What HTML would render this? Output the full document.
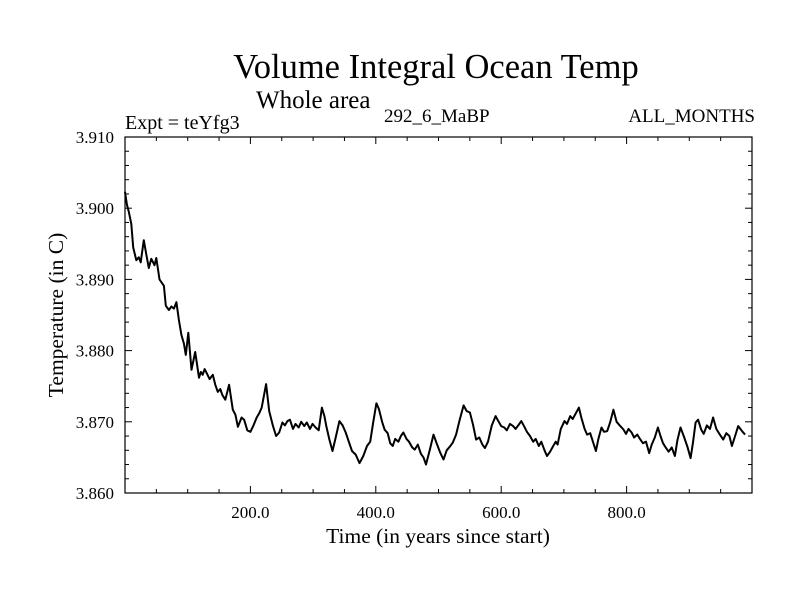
<!DOCTYPE html>
<html><head><meta charset="utf-8"><style>
body{margin:0;background:#fff}
svg{display:block;font-family:"Liberation Serif",serif}
</style></head><body>
<svg id="chart" width="800" height="600" xmlns="http://www.w3.org/2000/svg">
<rect width="800" height="600" fill="#fff"/>
<text x="436" y="78" font-size="34.5" text-anchor="middle">Volume Integral Ocean Temp</text>
<text x="256" y="108" font-size="25">Whole area</text>
<text x="125" y="129" font-size="20">Expt = teYfg3</text>
<text x="384" y="122" font-size="19">292_6_MaBP</text>
<text x="755" y="122" font-size="19" text-anchor="end">ALL_MONTHS</text>
<text x="438" y="543" font-size="21.5" text-anchor="middle">Time (in years since start)</text>
<text transform="translate(63,315) rotate(-90)" font-size="21.5" text-anchor="middle">Temperature (in C)</text>
<g id="axes"></g>
<path id="series" fill="none" stroke="#000" stroke-width="2" stroke-linejoin="round"/>
<rect x="125" y="137" width="627" height="356" fill="none" stroke="#000" stroke-width="1.2"/>
</svg>
<script>
const years=[0,3,6,10,13,18,22,25,30,34,38,42,47,50,55,62,65,70,74,78,82,86,90,94,97,101,106,112,118,121,124,127,130,135,140,144,148,152,155,160,166,172,176,180,186,190,195,200,205,210,214,218,225,230,236,241,246,251,255,259,263,268,272,277,281,286,290,295,299,304,309,314,318,321,326,331,336,342,347,352,357,362,368,374,380,386,391,396,401,405,410,414,419,423,427,431,436,440,444,449,453,458,462,467,472,476,480,486,492,497,503,508,513,518,523,528,533,540,545,550,555,560,565,570,574,579,585,591,596,600,605,609,614,619,623,628,632,637,641,646,651,655,660,664,669,673,678,683,687,690,695,701,705,710,714,719,724,728,733,737,742,747,751,755,760,764,769,774,779,784,790,795,799,803,808,812,817,822,826,831,836,840,845,850,854,858,863,867,872,877,881,886,891,897,902,906,910,914,919,923,928,933,938,943,948,954,959,964,968,973,978,985,989,993,997,1000];
const temps=[3.9023,3.9005,3.8995,3.8978,3.8945,3.8927,3.8931,3.8924,3.8955,3.8935,3.8916,3.8929,3.8920,3.8930,3.8900,3.8891,3.8863,3.8857,3.8862,3.8859,3.8868,3.8843,3.8822,3.8810,3.8794,3.8825,3.8773,3.8798,3.8762,3.8770,3.8766,3.8774,3.8769,3.8760,3.8766,3.8752,3.8742,3.8746,3.8738,3.8731,3.8752,3.8717,3.8710,3.8693,3.8706,3.8703,3.8688,3.8686,3.8695,3.8706,3.8712,3.8720,3.8753,3.8715,3.8694,3.8680,3.8685,3.8699,3.8695,3.8701,3.8703,3.8690,3.8697,3.8692,3.8700,3.8694,3.8699,3.8690,3.8697,3.8692,3.8688,3.8720,3.8708,3.8694,3.8675,3.8659,3.8678,3.8701,3.8695,3.8685,3.8672,3.8659,3.8654,3.8642,3.8652,3.8666,3.8672,3.8700,3.8726,3.8718,3.8700,3.8689,3.8684,3.8670,3.8666,3.8676,3.8672,3.8680,3.8685,3.8676,3.8672,3.8664,3.8661,3.8668,3.8655,3.8650,3.8640,3.8660,3.8682,3.8670,3.8656,3.8647,3.8660,3.8665,3.8671,3.8682,3.8700,3.8723,3.8715,3.8713,3.8696,3.8675,3.8678,3.8668,3.8663,3.8672,3.8695,3.8708,3.8700,3.8694,3.8692,3.8688,3.8697,3.8694,3.8690,3.8696,3.8701,3.8693,3.8686,3.8680,3.8672,3.8676,3.8666,3.8672,3.8660,3.8652,3.8658,3.8666,3.8672,3.8668,3.8690,3.8701,3.8697,3.8708,3.8704,3.8712,3.8720,3.8705,3.8690,3.8682,3.8684,3.8670,3.8659,3.8676,3.8692,3.8686,3.8687,3.8700,3.8717,3.8700,3.8694,3.8689,3.8683,3.8690,3.8685,3.8678,3.8682,3.8675,3.8670,3.8672,3.8656,3.8668,3.8678,3.8692,3.8680,3.8670,3.8663,3.8658,3.8664,3.8652,3.8674,3.8692,3.8680,3.8665,3.8649,3.8672,3.8699,3.8703,3.8689,3.8683,3.8695,3.8690,3.8706,3.8690,3.8683,3.8675,3.8684,3.8680,3.8666,3.8680,3.8694,3.8686,3.8682];
const xMajor=[200,400,600,800];
const xLabels=["200.0","400.0","600.0","800.0"];
const yMajor=[3.86,3.87,3.88,3.89,3.90,3.91];
const yLabels=["3.860","3.870","3.880","3.890","3.900","3.910"];
const L=125,R=752,T=137,B=493,X0=0,X1=1000,Y0=3.86,Y1=3.91;
function sx(v){return L+(v-X0)/(X1-X0)*(R-L);}
function sy(v){return B-(v-Y0)/(Y1-Y0)*(B-T);}
const NS="http://www.w3.org/2000/svg";
const ax=document.getElementById('axes');
function line(x1,y1,x2,y2,name){const l=document.createElementNS(NS,'line');
l.setAttribute('x1',x1);l.setAttribute('y1',y1);l.setAttribute('x2',x2);l.setAttribute('y2',y2);
l.setAttribute('stroke','#000');l.setAttribute('stroke-width','1');


ax.appendChild(l);}
function txt(x,y,s,anchor,name){const t=document.createElementNS(NS,'text');
t.setAttribute('x',x);t.setAttribute('y',y);t.setAttribute('font-size','17');t.setAttribute('text-anchor',anchor);t.textContent=s;


ax.appendChild(t);}
for(let v=0;v<=1000;v+=50){const x=sx(v);const len=(v%200===0)?7:4;
line(x,B,x,B-len,'x-tick');line(x,T,x,T+len,'x-tick-top');}
for(let i=0;i<=25;i++){const v=Y0+i*0.002;const y=sy(v);const len=(i%5===0)?7:4;
line(L,y,L+len,y,'y-tick');line(R,y,R-len,y,'y-tick-right');}
xMajor.forEach((v,i)=>txt(sx(v),518,xLabels[i],'middle','x-tick-label'));
yMajor.forEach((v,i)=>txt(114,sy(v)+6,yLabels[i],'end','y-tick-label'));
let d='';years.forEach((yr,i)=>{d+=(i?'L':'M')+sx(yr).toFixed(1)+','+sy(temps[i]).toFixed(1);});
document.getElementById('series').setAttribute('d',d);
</script>
</body></html>
